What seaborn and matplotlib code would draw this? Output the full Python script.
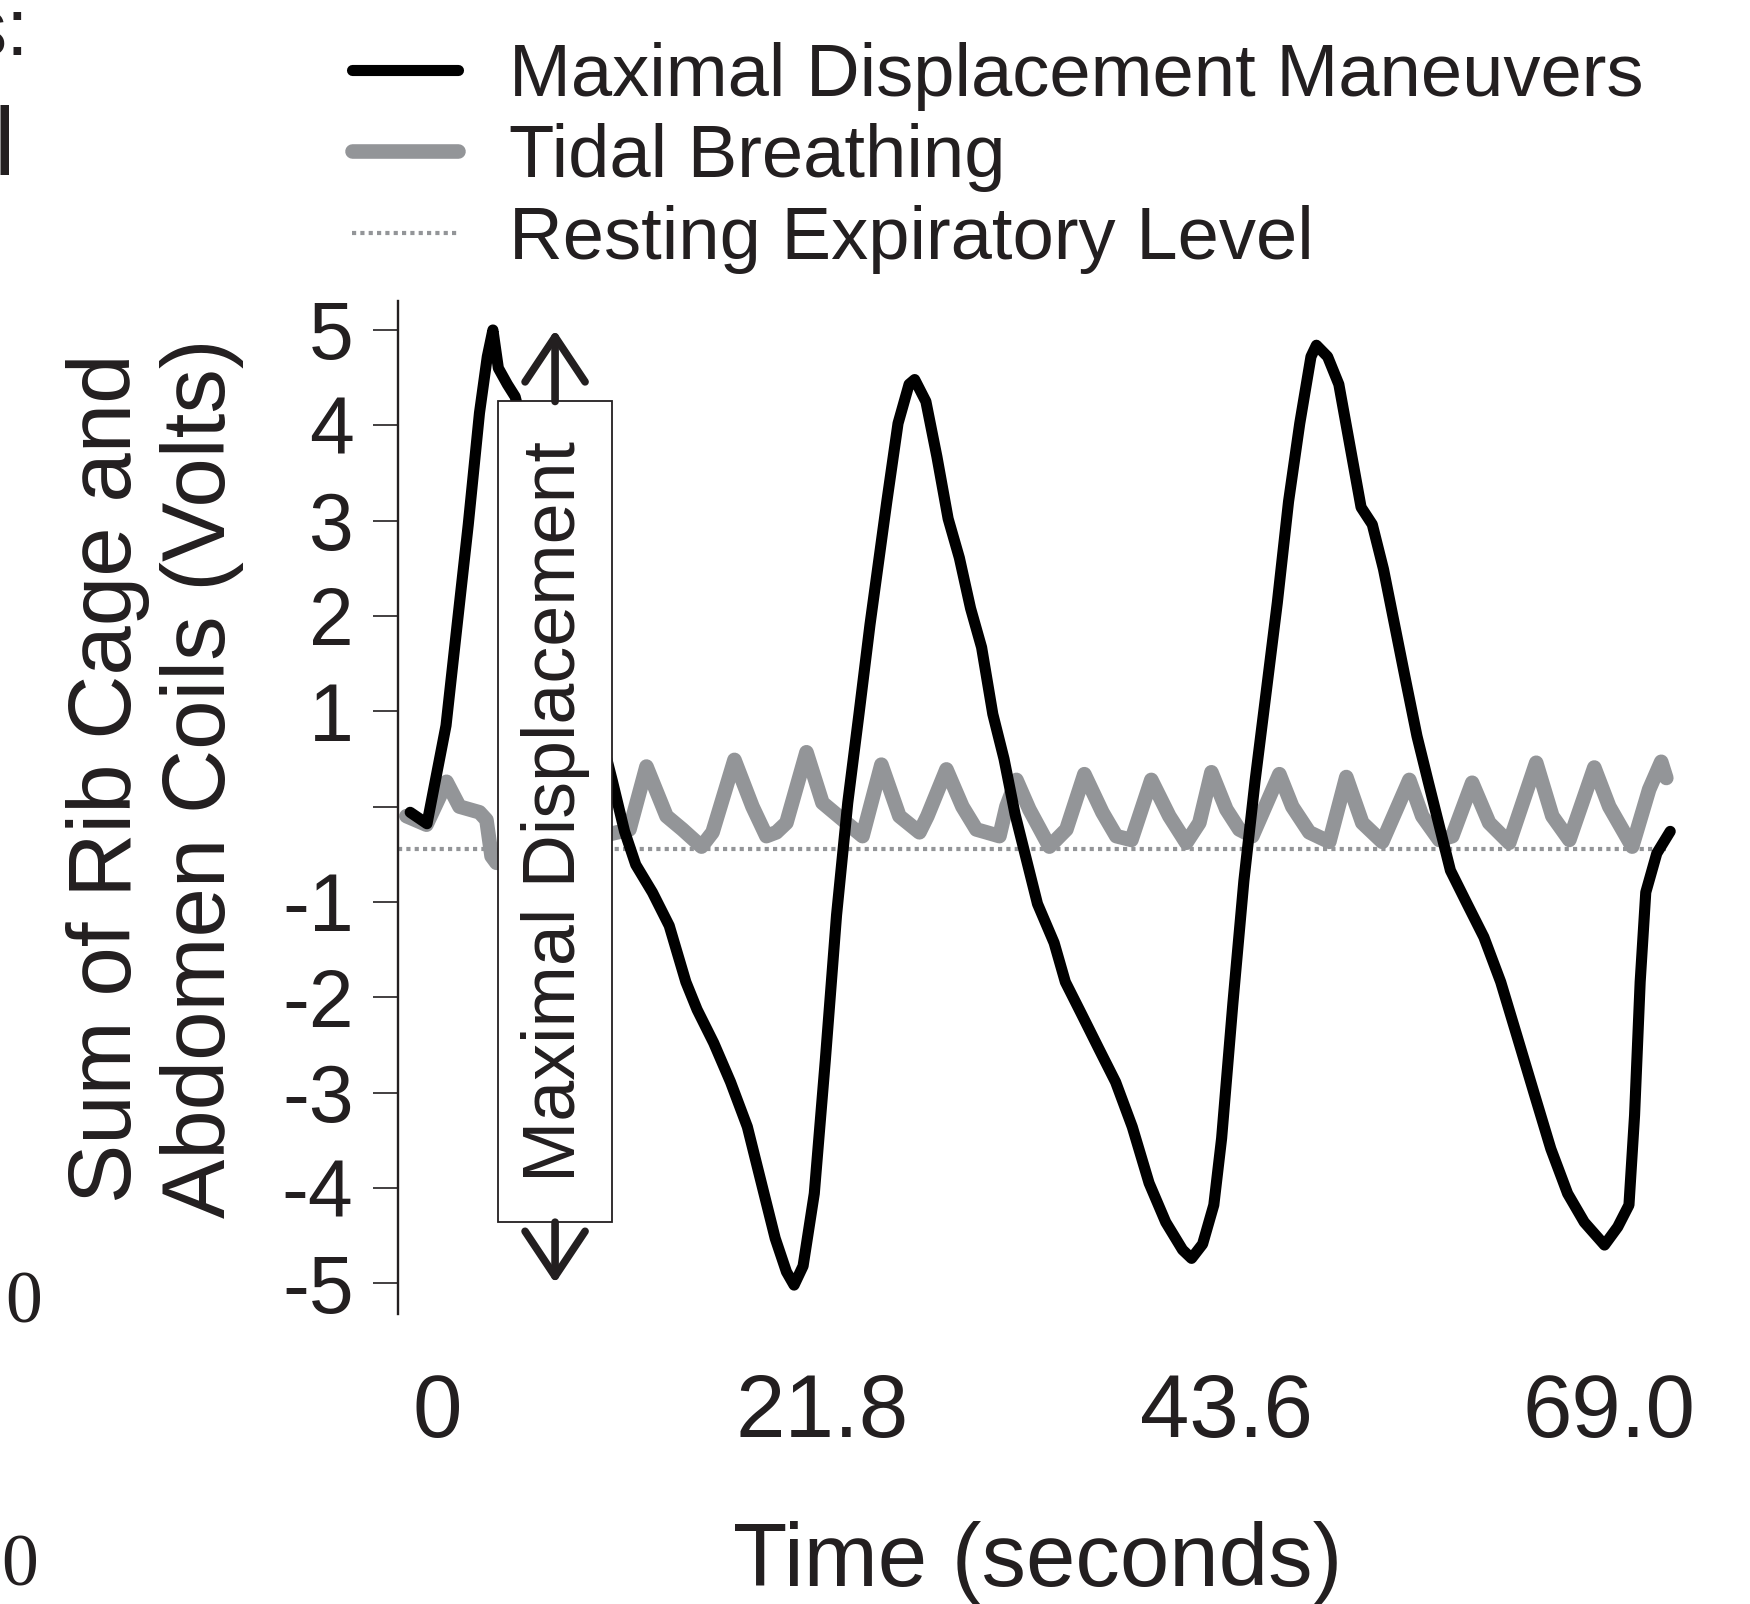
import numpy as np
import pandas as pd
import seaborn as sns
import matplotlib.pyplot as plt
from matplotlib.patches import Rectangle

# 最大位移动作 (黑线)
max_t = [-1.58, -0.59, 0.53, 1.18, 1.84, 2.50, 2.96, 3.29, 3.61, 4.14, 4.60, 7.42,
         10.32, 11.04, 11.70, 12.68, 13.67, 14.65, 15.31, 16.29, 17.28, 18.27, 19.25,
         19.91, 20.57, 21.02, 21.55, 22.21, 22.86, 23.52, 24.18, 24.84, 25.49, 26.48,
         27.14, 27.79, 28.12, 28.78, 29.43, 30.09, 30.75, 31.41, 32.06, 32.72, 33.38,
         34.03, 34.69, 35.35, 36.33, 36.99, 37.98, 38.96, 39.95, 40.93, 41.92, 42.90,
         43.89, 44.42, 45.07, 45.73, 46.19, 46.85, 47.50, 48.16, 48.82, 49.47, 50.13,
         50.79, 51.45, 51.77, 52.43, 53.09, 53.75, 54.40, 55.06, 55.72, 56.37, 57.03,
         57.69, 58.34, 59.00, 59.66, 60.64, 61.63, 62.62, 63.60, 64.59, 65.57, 66.56,
         67.54, 68.73, 69.51, 70.17, 70.50, 70.83, 71.16, 71.81, 72.60]
max_v = [-0.06, -0.18, 0.85, 1.90, 2.96, 4.13, 4.72, 5.00, 4.60, 4.43, 4.30, 2.30,
         0.27, -0.26, -0.61, -0.90, -1.25, -1.84, -2.13, -2.48, -2.89, -3.36, -4.06,
         -4.53, -4.88, -5.02, -4.82, -4.06, -2.66, -1.14, 0.04, 0.97, 1.91, 3.20,
         4.02, 4.43, 4.48, 4.25, 3.67, 3.02, 2.61, 2.08, 1.67, 0.97, 0.50,
         -0.08, -0.55, -1.02, -1.43, -1.84, -2.19, -2.54, -2.89, -3.36, -3.95, -4.36,
         -4.65, -4.74, -4.59, -4.18, -3.48, -2.07, -0.78, 0.27, 1.21, 2.14, 3.20,
         4.02, 4.72, 4.84, 4.72, 4.43, 3.78, 3.14, 2.96, 2.49, 1.91, 1.32,
         0.74, 0.27, -0.20, -0.67, -1.02, -1.37, -1.84, -2.42, -3.01, -3.59, -4.06,
         -4.36, -4.60, -4.41, -4.18, -3.24, -1.84, -0.90, -0.49, -0.26]

# 潮式呼吸 (灰线)
tidal_t = [-1.80, -0.62, 0.56, 1.32, 2.50, 2.91, 3.21, 3.50, 4.86, 6.92, 8.68,
           10.62, 11.33, 12.33, 13.51, 14.45, 15.57, 16.22, 17.51, 18.57, 19.39,
           19.98, 20.57, 21.75, 22.69, 24.10, 25.05, 26.16, 27.22, 28.40, 28.87,
           29.99, 30.93, 31.75, 32.34, 33.11, 33.52, 34.11, 34.87, 36.05, 37.05,
           38.11, 39.17, 39.99, 40.88, 42.05, 43.11, 44.11, 44.88, 45.59, 46.47,
           47.23, 48.00, 49.59, 50.35, 51.35, 52.53, 53.53, 54.47, 55.65, 57.24,
           58.00, 59.00, 59.77, 60.94, 61.94, 63.12, 64.71, 65.66, 66.66, 68.13,
           69.01, 70.36, 71.36, 72.07, 72.37]
tidal_v = [-0.10, -0.19, 0.26, 0.00, -0.06, -0.14, -0.52, -0.59, -0.24, 0.18, -0.35,
           -0.27, -0.24, 0.42, -0.10, -0.24, -0.42, -0.27, 0.49, 0.00, -0.31,
           -0.27, -0.17, 0.57, 0.04, -0.17, -0.31, 0.44, -0.10, -0.27, -0.10,
           0.39, 0.00, -0.24, -0.27, -0.31, 0.00, 0.28, -0.03, -0.42, -0.24,
           0.34, -0.06, -0.31, -0.35, 0.28, -0.10, -0.38, -0.17, 0.36, -0.03,
           -0.24, -0.31, 0.34, 0.00, -0.27, -0.37, 0.31, -0.17, -0.37, 0.28,
           -0.10, -0.35, -0.31, 0.25, -0.17, -0.38, 0.46, -0.10, -0.35, 0.41,
           0.00, -0.42, 0.18, 0.47, 0.30]

rest_level = -0.45
yticks = [-5, -4, -3, -2, -1, 0, 1, 2, 3, 4, 5]
ytick_labels = ['-5', '-4', '-3', '-2', '-1', '', '1', '2', '3', '4', '5']
xticks = [0, 22.7, 46.5, 69.0]
xtick_labels = ['0', '21.8', '43.6', '69.0']
box_t = [3.6, 10.3]
box_v = [-4.36, 4.25]

ink = '#231f20'
grey = '#939598'

sns.set_theme(style='ticks')
plt.rcParams['font.family'] = ['Liberation Sans', 'DejaVu Sans']
plt.rcParams['text.color'] = ink

df_max = pd.DataFrame({'t': max_t, 'v': max_v})
df_tidal = pd.DataFrame({'t': tidal_t, 'v': tidal_v})

fig = plt.figure(figsize=(17.5, 16.04), dpi=100)
ax = fig.add_axes([0.2274, 0.1810, 0.7309, 0.6311])

xlim = (-2.3, 73.0)
ax.hlines(rest_level, xlim[0], tidal_t[-1], colors=grey, linestyles=(0, (1, 1)),
          lw=3, zorder=1, label='Resting Expiratory Level')
sns.lineplot(data=df_tidal, x='t', y='v', ax=ax, color=grey, lw=10.5,
             label='Tidal Breathing', zorder=2, solid_joinstyle='round',
             solid_capstyle='round')
sns.lineplot(data=df_max, x='t', y='v', ax=ax, color='black', lw=8,
             label='Maximal Displacement Maneuvers', zorder=3,
             solid_joinstyle='round', solid_capstyle='round')

# 标注框
ax.add_patch(Rectangle((box_t[0], box_v[0]), box_t[1] - box_t[0], box_v[1] - box_v[0],
                       facecolor='white', edgecolor=ink, lw=1.3, zorder=5))
ax.text(np.mean(box_t), np.mean(box_v), 'Maximal Displacement', rotation=90,
        ha='center', va='center', fontsize=53, color=ink, zorder=6)
arrow = dict(arrowstyle='->,head_length=2.7,head_width=1.8', lw=5.5, color=ink,
             shrinkA=0, shrinkB=0)
ax.annotate('', xy=(np.mean(box_t), 5.0), xytext=(np.mean(box_t), box_v[1]),
            arrowprops=arrow, zorder=6)
ax.annotate('', xy=(np.mean(box_t), -5.0), xytext=(np.mean(box_t), box_v[0]),
            arrowprops=arrow, zorder=6)

ax.set_xlim(*xlim)
ax.set_ylim(-5.32, 5.30)
ax.set_yticks(yticks)
ax.set_yticklabels(ytick_labels)
ax.set_xticks(xticks)
ax.set_xticklabels(xtick_labels)
ax.tick_params(axis='y', labelsize=58, length=18, width=1.2, pad=14, colors=ink,
               labelcolor=ink)
ax.tick_params(axis='x', labelsize=64, length=0, pad=42, labelcolor=ink)
for s in ['top', 'right', 'bottom']:
    ax.spines[s].set_visible(False)
ax.spines['left'].set_linewidth(1.7)
ax.spines['left'].set_color(ink)

ax.set_xlabel('Time (seconds)', fontsize=64, labelpad=47, color=ink)
ax.set_ylabel('Sum of Rib Cage and\nAbdomen Coils (Volts)', fontsize=64,
              color=ink, linespacing=1.16)
ax.yaxis.label.set_va('center')
ax.yaxis.set_label_coords(-0.190, 0.529)

h, l = ax.get_legend_handles_labels()
order = [l.index('Maximal Displacement Maneuvers'), l.index('Tidal Breathing'),
         l.index('Resting Expiratory Level')]
ax.legend([h[i] for i in order], [l[i] for i in order], loc='upper left',
          bbox_to_anchor=(352 / 1750, 0.974), bbox_transform=fig.transFigure,
          frameon=False, fontsize=53.5, handlelength=1.43, handletextpad=0.68,
          labelspacing=0.17, borderpad=0, borderaxespad=0)

# 左侧被裁掉的残字
fig.text(-0.019, 0.966, 's:', fontsize=58, color=ink, va='baseline')
fig.text(-0.004, 0.891, 'l', fontsize=70, color=ink, va='baseline')
fig.text(0.003, 0.1758, '0', fontsize=53, color=ink, va='baseline',
         family='Liberation Serif')
fig.text(0.001, 0.0118, '0', fontsize=53, color=ink, va='baseline',
         family='Liberation Serif')

fig.savefig('out.png', dpi=100)
